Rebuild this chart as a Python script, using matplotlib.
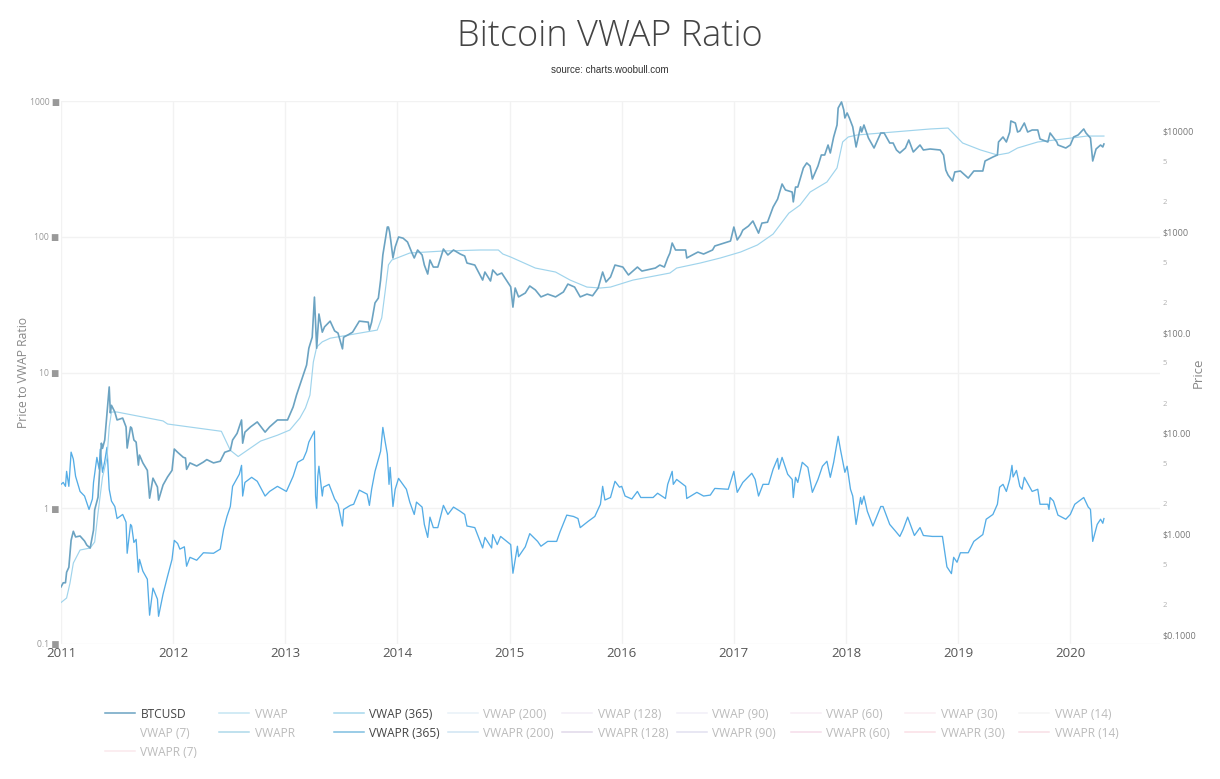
import matplotlib
matplotlib.use("Agg")
import matplotlib.pyplot as plt
from matplotlib.lines import Line2D

plt.rcParams['font.family'] = ['Open Sans', 'DejaVu Sans']

# values
btc_years = [2011.00,2011.02,2011.04,2011.05,2011.07,2011.09,2011.11,2011.13,2011.17,2011.21,2011.23,2011.26,2011.29,2011.30,2011.33,2011.36,2011.37,2011.39,2011.41,2011.43,2011.44,2011.45,2011.48,2011.50,2011.55,2011.58,2011.59,2011.62,2011.63,2011.65,2011.67,2011.69,2011.70,2011.73,2011.77,2011.79,2011.82,2011.86,2011.87,2011.91,2011.95,2011.99,
    2012.01,2012.04,2012.09,2012.11,2012.12,2012.15,2012.21,2012.27,2012.30,2012.36,2012.42,2012.46,2012.51,2012.53,2012.57,2012.61,2012.62,2012.64,2012.69,2012.75,2012.82,2012.86,2012.93,
    2013.02,2013.07,2013.10,2013.13,2013.16,2013.19,2013.21,2013.24,2013.26,2013.28,2013.30,2013.33,2013.35,2013.40,2013.44,2013.47,2013.51,2013.52,2013.56,2013.60,2013.66,2013.74,2013.75,2013.77,2013.80,2013.83,2013.85,2013.87,2013.89,2013.91,2013.92,2013.93,2013.94,2013.96,2013.98,
    2014.01,2014.05,2014.09,2014.13,2014.15,2014.18,2014.22,2014.24,2014.27,2014.29,2014.32,2014.36,2014.41,2014.45,2014.50,2014.56,2014.60,2014.62,2014.69,2014.76,2014.78,2014.83,2014.85,2014.89,2014.93,
    2015.01,2015.03,2015.05,2015.08,2015.14,2015.18,2015.23,2015.28,2015.34,2015.41,2015.48,2015.52,2015.58,2015.63,2015.69,2015.74,2015.79,2015.83,2015.86,2015.90,2015.94,
    2016.01,2016.06,2016.14,2016.18,2016.30,2016.34,2016.38,2016.41,2016.43,2016.45,2016.48,2016.57,2016.58,2016.68,2016.73,2016.81,2016.83,2016.97,
    2017.00,2017.03,2017.06,2017.08,2017.13,2017.17,2017.22,2017.25,2017.30,2017.35,2017.39,2017.43,2017.46,2017.52,2017.53,2017.55,2017.57,2017.62,2017.65,2017.68,2017.70,2017.75,2017.78,2017.81,2017.84,2017.86,2017.89,2017.92,2017.93,2017.96,2017.98,2017.99,
    2018.01,2018.03,2018.06,2018.09,2018.13,2018.14,2018.16,2018.20,2018.25,2018.31,2018.34,2018.39,2018.42,2018.45,2018.48,2018.53,2018.56,2018.60,2018.66,2018.69,2018.75,2018.84,2018.87,2018.89,2018.91,2018.95,2018.97,
    2019.02,2019.09,2019.14,2019.22,2019.24,2019.31,2019.35,2019.36,2019.40,2019.43,2019.46,2019.47,2019.51,2019.53,2019.55,2019.59,2019.62,2019.66,2019.71,2019.73,2019.80,2019.82,2019.88,2019.89,2019.96,
    2020.00,2020.03,2020.07,2020.12,2020.14,2020.18,2020.20,2020.23,2020.27,2020.29,2020.30]
btc_price = [0.30,0.33,0.33,0.42,0.47,0.87,1.07,0.94,0.96,0.856,0.78,0.73,1.1,1.74,2.33,8.0,7.1,8.6,16,28.9,16,19,16.3,13.6,14.2,11.6,7.16,11.6,11.3,8.6,8.2,4.85,6.1,5.1,4.3,2.28,3.6,2.94,2.18,3.08,3.7,4.3,
    7.0,6.5,5.8,5.7,4.4,5.1,4.75,5.2,5.5,5.1,5.3,6.5,6.8,8.6,10.0,13.6,8.0,10.3,11.6,13,10.3,11.6,13.6,
    13.6,18.3,24,30.2,38,47.7,70,90,225,70,153,101,114,130,104,99,69,90,95,101,130,127,106,127,197,220,332,590,810,1115,1115,1000,830,550,707,
    888,865,792,616,550,660,589,468,381,525,447,447,675,589,660,602,575,490,468,332,399,325,418,373,390,
    285,179,277,226,247,290,265,226,241,226,253,303,283,226,241,232,277,399,318,356,468,
    447,373,447,408,437,468,447,550,616,774,660,660,550,630,602,660,723,810,
    1115,830,930,1040,1140,1280,970,1220,1245,1760,2110,2980,2600,2480,1980,2780,2780,4300,4820,4490,3340,4490,5780,5780,7260,6050,8720,11470,16900,19400,16200,13460,
    15100,13460,11000,6940,11000,9770,11470,8520,6780,9550,9550,7600,7600,6480,6050,6780,8140,6190,7260,6480,6630,6480,5780,4100,3660,3190,3920,
    4010,3410,4010,4010,5040,5520,5780,7780,8720,7780,9770,12570,12000,9770,10000,12000,9770,10230,10230,8330,7780,9550,7780,7260,6780,
    7260,8720,9130,10470,9550,8520,5040,6630,7260,6940,7430]

vwap_years = [2011.00,2011.05,2011.08,2011.11,2011.17,2011.26,2011.30,2011.33,2011.37,2011.41,2011.43,2011.45,2011.50,2011.91,2011.95,2012.43,2012.51,2012.58,2012.78,2012.93,2013.04,2013.13,2013.18,2013.22,2013.25,2013.28,2013.33,2013.40,2013.82,2013.86,2013.89,2013.92,2013.95,2014.11,2014.41,2014.74,2014.90,2014.94,2015.01,2015.23,2015.41,2015.54,2015.69,2015.81,2015.90,2016.10,2016.43,2016.49,2016.70,2016.88,2017.06,2017.21,2017.35,2017.49,2017.59,2017.68,2017.83,2017.92,2017.97,2018.02,2018.10,2018.75,2018.91,2019.04,2019.20,2019.35,2019.45,2019.53,2019.71,2019.94,2020.15,2020.30]
vwap_365 = [0.21,0.233,0.327,0.518,0.697,0.73,0.837,1.62,3.68,5.7,11.6,16.3,16.3,13.3,12.4,10.5,6.8,5.9,8.4,9.6,10.8,14.2,17.9,24,51,72,81,88,106,140,253,470,525,616,645,660,660,602,562,437,399,332,283,277,283,332,390,437,490,550,630,740,950,1530,1840,2480,3120,4300,7780,8720,9130,10470,10700,7600,6480,5780,6050,6780,7780,8330,8910,8910]

vwapr_years = [2011.00,2011.02,2011.04,2011.05,2011.07,2011.09,2011.11,2011.13,2011.17,2011.21,2011.25,2011.28,2011.29,2011.32,2011.34,2011.35,2011.37,2011.39,2011.41,2011.43,2011.45,2011.48,2011.50,2011.55,2011.58,2011.59,2011.62,2011.63,2011.65,2011.67,2011.69,2011.70,2011.73,2011.77,2011.79,2011.82,2011.86,2011.87,2011.91,2011.95,2011.99,
    2012.01,2012.04,2012.06,2012.10,2012.12,2012.15,2012.21,2012.27,2012.36,2012.42,2012.45,2012.48,2012.51,2012.53,2012.59,2012.61,2012.62,2012.64,2012.70,2012.75,2012.82,2012.86,2012.93,2013.01,
    2013.07,2013.11,2013.16,2013.19,2013.21,2013.26,2013.27,2013.28,2013.29,2013.30,2013.33,2013.34,2013.39,2013.44,2013.47,2013.51,2013.52,2013.58,2013.61,2013.66,2013.73,2013.75,2013.77,2013.80,2013.85,2013.87,2013.89,2013.91,2013.925,2013.935,2013.96,2013.98,
    2014.01,2014.08,2014.11,2014.15,2014.17,2014.22,2014.24,2014.27,2014.29,2014.32,2014.36,2014.41,2014.45,2014.50,2014.56,2014.60,2014.62,2014.69,2014.76,2014.78,2014.84,2014.85,2014.89,2014.92,
    2015.01,2015.03,2015.07,2015.08,2015.14,2015.18,2015.25,2015.28,2015.34,2015.42,2015.45,2015.51,2015.57,2015.61,2015.63,2015.70,2015.76,2015.81,2015.83,2015.85,2015.90,2015.94,2015.98,
    2016.00,2016.03,2016.09,2016.14,2016.17,2016.28,2016.32,2016.39,2016.41,2016.45,2016.46,2016.49,2016.57,2016.58,2016.67,2016.73,2016.79,2016.83,2016.95,
    2017.00,2017.03,2017.08,2017.16,2017.19,2017.22,2017.26,2017.31,2017.35,2017.39,2017.40,2017.43,2017.48,2017.52,2017.53,2017.55,2017.57,2017.61,2017.66,2017.70,2017.75,2017.79,2017.83,2017.86,2017.89,2017.93,2017.95,2017.98,
    2017.99,2018.01,2018.04,2018.06,2018.09,2018.13,2018.14,2018.16,2018.19,2018.24,2018.31,2018.33,2018.39,2018.44,2018.48,2018.51,2018.55,2018.61,2018.66,2018.69,2018.77,2018.86,2018.88,2018.90,2018.94,2018.96,2018.99,
    2019.02,2019.09,2019.14,2019.22,2019.25,2019.31,2019.35,2019.37,2019.40,2019.43,2019.46,2019.48,2019.49,2019.52,2019.55,2019.57,2019.59,2019.66,2019.71,2019.73,2019.80,2019.81,2019.82,2019.85,2019.89,2019.96,
    2020.00,2020.04,2020.12,2020.16,2020.18,2020.20,2020.24,2020.27,2020.29,2020.30]
vwapr = [1.50,1.55,1.45,1.87,1.45,2.59,2.30,1.72,1.33,1.23,0.98,1.17,1.55,2.37,1.94,2.72,1.84,2.22,2.81,1.38,1.13,1.03,0.84,0.90,0.79,0.466,0.76,0.74,0.56,0.59,0.338,0.42,0.344,0.30,0.163,0.258,0.214,0.16,0.233,0.315,0.42,
    0.58,0.55,0.50,0.52,0.374,0.435,0.414,0.47,0.466,0.50,0.70,0.87,1.03,1.45,1.78,2.07,1.23,1.55,1.69,1.58,1.23,1.33,1.45,1.33,
    1.72,2.18,2.30,2.63,3.07,3.70,1.23,1.0,1.72,2.04,1.23,1.43,1.50,1.17,1.07,0.74,0.98,1.05,1.07,1.36,1.27,1.05,1.38,1.87,2.63,3.94,3.11,2.50,1.50,2.0,1.03,1.38,
    1.66,1.38,1.11,0.90,1.11,1.02,0.76,0.61,0.86,0.72,0.72,1.05,0.90,1.02,0.95,0.90,0.74,0.72,0.51,0.61,0.51,0.64,0.54,0.62,
    0.54,0.332,0.525,0.44,0.52,0.65,0.57,0.525,0.57,0.57,0.67,0.89,0.87,0.84,0.72,0.80,0.87,1.07,1.45,1.15,1.20,1.58,1.43,
    1.45,1.23,1.17,1.33,1.20,1.20,1.29,1.18,1.50,1.87,1.50,1.63,1.45,1.18,1.31,1.23,1.25,1.40,1.38,
    1.87,1.31,1.55,1.81,1.63,1.23,1.50,1.50,1.94,2.33,1.94,2.37,1.78,1.63,1.20,1.69,1.55,2.18,2.0,1.31,1.63,2.04,2.22,1.69,2.18,3.39,2.72,2.04,
    1.84,2.04,1.38,1.23,0.76,1.20,1.07,1.23,0.95,0.74,1.03,1.03,0.76,0.68,0.62,0.70,0.86,0.63,0.72,0.63,0.62,0.62,0.48,0.37,0.33,0.435,0.40,
    0.47,0.47,0.57,0.64,0.83,0.90,1.07,1.43,1.50,1.33,1.63,2.07,1.70,1.90,1.45,1.38,1.69,1.33,1.38,1.07,1.07,0.98,1.20,1.13,0.89,0.83,
    0.90,1.07,1.20,1.02,0.98,0.57,0.76,0.83,0.775,0.84]

year_ticks = [2011, 2012, 2013, 2014, 2015, 2016, 2017, 2018, 2019, 2020]
ratio_ticks = [0.1, 1, 10, 100, 1000]
ratio_labels = ["0.1", "1", "10", "100", "1000"]
price_ticks = [0.1, 1, 10, 100, 1000, 10000]
price_labels = ["$0.1000", "$1.000", "$10.00", "$100.0", "$1000", "$10000"]
price_minor = [0.2, 0.5, 2, 5, 20, 50, 200, 500, 2000, 5000]
price_minor_labels = ["2", "5", "2", "5", "2", "5", "2", "5", "2", "5"]

legend_rows = [
    [("BTCUSD", "#6ba3c2", True), ("VWAP", "#c5e5f2", False), ("VWAP (365)", "#a6d7ec", True),
     ("VWAP (200)", "#e8f1f8", False), ("VWAP (128)", "#f3eef7", False), ("VWAP (90)", "#f1eff8", False),
     ("VWAP (60)", "#f8eef5", False), ("VWAP (30)", "#fbeef2", False), ("VWAP (14)", "#f5f5f5", False)],
    [("VWAP (7)", "#ffffff", False), ("VWAPR", "#aed9ea", False), ("VWAPR (365)", "#7fbfe0", True),
     ("VWAPR (200)", "#cfe4f2", False), ("VWAPR (128)", "#e0d9ea", False), ("VWAPR (90)", "#e2e0f0", False),
     ("VWAPR (60)", "#f5dcea", False), ("VWAPR (30)", "#fadfe6", False), ("VWAPR (14)", "#f8dfe6", False)],
    [("VWAPR (7)", "#fbe8ec", False)],
]

W, H = 1220, 779
fig = plt.figure(figsize=(W / 100, H / 100), dpi=100)
ax = fig.add_axes([61 / W, 1 - 644 / H, (1160 - 61) / W, (644 - 101) / H])

ax.set_yscale("log")
ax.set_ylim(0.1, 1000)
ax.set_xlim(2011, 2020.80)
ax.grid(True, color="#f2f2f2", lw=1)
ax.set_axisbelow(True)
for s in ax.spines.values():
    s.set_visible(False)

ax.set_xticks(year_ticks)
ax.set_xticklabels([str(y) for y in year_ticks])
ax.tick_params(axis="x", length=0, pad=2, labelsize=9.5, labelcolor="#555555")
ax.set_yticks(ratio_ticks)
ax.set_yticklabels([l + " ■" for l in ratio_labels])
ax.minorticks_off()
ax.tick_params(axis="y", which="both", length=0, pad=1, labelsize=6.2, labelcolor="#999999")
ax.set_ylabel("Price to VWAP Ratio", color="#888888", fontsize=8.7, labelpad=0)
ax.yaxis.set_label_coords(-0.028, 0.50)

ax.plot(vwapr_years, vwapr, color="#55ade6", lw=0.95, zorder=3)

ax2 = ax.twinx()
ax2.set_yscale("log")
ax2.set_ylim(0.0815, 19840)
for s in ax2.spines.values():
    s.set_visible(False)
ax2.plot(vwap_years, vwap_365, color="#a0d4ec", lw=0.85, zorder=3)
ax2.plot(btc_years, btc_price, color="#6ba3c2", lw=1.2, zorder=4)
ax2.set_yticks(price_ticks)
ax2.set_yticklabels(price_labels)
ax2.set_yticks(price_minor, minor=True)
ax2.set_yticklabels(price_minor_labels, minor=True)
ax2.tick_params(axis="y", which="major", length=0, pad=1.5, labelsize=6.5, labelcolor="#777777")
ax2.tick_params(axis="y", which="minor", length=0, pad=1.5, labelsize=5.5, labelcolor="#b0b0b0")
ax2.set_ylabel("Price", color="#888888", fontsize=9.5)
ax2.yaxis.set_label_coords(1.0285, 0.50)

fig.text(610 / W, 1 - 37 / H, "Bitcoin VWAP Ratio", ha="center", va="center",
         fontsize=26, fontweight="light", color="#444444")
fig.text(610 / W, 1 - 70 / H, "source: charts.woobull.com", ha="center", va="center",
         fontsize=7, family="Liberation Sans", color="#333333")

# legend laid out by hand to keep the column grid
for r, row in enumerate(legend_rows):
    y = 1 - (713 + 19 * r) / H
    for c, (name, col, active) in enumerate(row):
        x0 = 105 + 114.3 * c
        fig.add_artist(Line2D([x0 / W, (x0 + 30) / W], [y, y], color=col, lw=1.1))
        fig.text((x0 + 35.5) / W, y - 1.5 / H, name, va="center", fontsize=8.6,
                 color="#444444" if active else "#bbbbbb")

fig.savefig("out.png", dpi=100)
